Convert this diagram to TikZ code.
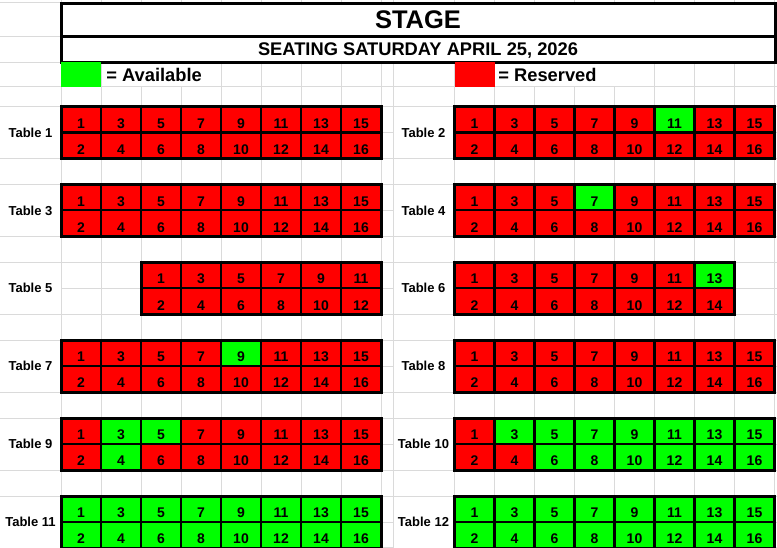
\documentclass[tikz,border=0pt]{standalone}
\usepackage{fontspec}
\setmainfont{Liberation Sans}
\usepackage{tikz}
\usetikzlibrary{positioning}
\definecolor{free}{HTML}{00FF00}
\definecolor{taken}{HTML}{FF0000}
\definecolor{gridline}{HTML}{DADADA}

\begin{document}
\begin{tikzpicture}[x=1pt,y=-1pt,font=\bfseries]
    \tikzstyle{gridline}=[draw=gridline, line width=1pt]
    \tikzstyle{seat}=[draw, line width=2.2pt, minimum width=40pt, minimum height=26pt, inner sep=0pt, outer sep=0pt, text height=17.4pt, text depth=0pt, font=\fontsize{14}{16}\selectfont\bfseries]
    \tikzstyle{free}=[fill=free]
    \tikzstyle{taken}=[fill=taken]
    \tikzstyle{tablebox}=[draw, line width=3pt]
    \tikzstyle{tablename}=[inner sep=0pt, font=\fontsize{13}{15}\selectfont\bfseries]
    \tikzstyle{key}=[inner sep=0pt, font=\fontsize{18.3}{20}\selectfont\bfseries]
    \tikzstyle{banner}=[draw, fill=white, line width=3pt, minimum width=714pt, inner sep=0pt, outer sep=0pt, text depth=0pt]
    \useasboundingbox (0,0) rectangle (777,548);

    % Sheet grid
    \foreach \x in {61,101,...,381,393,454.5,494.5,...,774.5} \draw[gridline] (\x,0) -- (\x,548);
    \foreach \y in {2.7,36.7,62.3,86.7} \draw[gridline] (0,\y) -- (777,\y);
    \foreach \j in {0,...,17} \draw[gridline] (0,{106.5+25.97*\j}) -- (777,{106.5+25.97*\j});
    \fill[white] (101.5,62.8) rectangle (221,86.2);
    \fill[white] (494.5,62.8) rectangle (614.5,86.2);
    \foreach \t in {106.5,184.4,262.3,340.2,418.1,496} {
        \fill[white] (0,\t+0.5) rectangle (60.5,\t+51.5);
        \fill[white] (393.5,\t+0.5) rectangle (454,\t+51.5);
    }

    % Header
    \node[banner, minimum height=33.4pt, text height=16.6pt, font=\fontsize{25.5}{28}\selectfont\bfseries] (stage) at (418,20) {STAGE};
    \node[banner, minimum height=25.6pt, text height=12.4pt, font=\fontsize{18.3}{20}\selectfont\bfseries] (date) at (418,49.5) {SEATING SATURDAY APRIL 25, 2026};

    % Legend
    \node[free, minimum width=40pt, minimum height=24.4pt, inner sep=0pt] (freekey) at (81,74.5) {};
    \node[key, right=5pt of freekey] (freetext) {= Available};
    \node[taken, minimum width=40pt, minimum height=24.4pt, inner sep=0pt] (takenkey) at (474.5,74.5) {};
    \node[key, right=3.5pt of takenkey] (takentext) {= Reserved};

    % Table 1
    \node[tablename] (table1) at (30.5,132.5) {Table 1};
    \foreach \s/\c [count=\i from 0] in {1/taken,3/taken,5/taken,7/taken,9/taken,11/taken,13/taken,15/taken} \node[seat,\c] (t1s\s) at ({81+40*\i},119.5) {\s};
    \foreach \s/\c [count=\i from 0] in {2/taken,4/taken,6/taken,8/taken,10/taken,12/taken,14/taken,16/taken} \node[seat,\c] (t1s\s) at ({81+40*\i},145.5) {\s};
    \draw[tablebox] (t1s1.north west) rectangle (t1s16.south east);

    % Table 2
    \node[tablename] (table2) at (423.5,132.5) {Table 2};
    \foreach \s/\c [count=\i from 0] in {1/taken,3/taken,5/taken,7/taken,9/taken,11/free,13/taken,15/taken} \node[seat,\c] (t2s\s) at ({474.5+40*\i},119.5) {\s};
    \foreach \s/\c [count=\i from 0] in {2/taken,4/taken,6/taken,8/taken,10/taken,12/taken,14/taken,16/taken} \node[seat,\c] (t2s\s) at ({474.5+40*\i},145.5) {\s};
    \draw[tablebox] (t2s1.north west) rectangle (t2s16.south east);

    % Table 3
    \node[tablename] (table3) at (30.5,210.4) {Table 3};
    \foreach \s/\c [count=\i from 0] in {1/taken,3/taken,5/taken,7/taken,9/taken,11/taken,13/taken,15/taken} \node[seat,\c] (t3s\s) at ({81+40*\i},197.4) {\s};
    \foreach \s/\c [count=\i from 0] in {2/taken,4/taken,6/taken,8/taken,10/taken,12/taken,14/taken,16/taken} \node[seat,\c] (t3s\s) at ({81+40*\i},223.4) {\s};
    \draw[tablebox] (t3s1.north west) rectangle (t3s16.south east);

    % Table 4
    \node[tablename] (table4) at (423.5,210.4) {Table 4};
    \foreach \s/\c [count=\i from 0] in {1/taken,3/taken,5/taken,7/free,9/taken,11/taken,13/taken,15/taken} \node[seat,\c] (t4s\s) at ({474.5+40*\i},197.4) {\s};
    \foreach \s/\c [count=\i from 0] in {2/taken,4/taken,6/taken,8/taken,10/taken,12/taken,14/taken,16/taken} \node[seat,\c] (t4s\s) at ({474.5+40*\i},223.4) {\s};
    \draw[tablebox] (t4s1.north west) rectangle (t4s16.south east);

    % Table 5
    \node[tablename] (table5) at (30.5,288.3) {Table 5};
    \foreach \s/\c [count=\i from 0] in {1/taken,3/taken,5/taken,7/taken,9/taken,11/taken} \node[seat,\c] (t5s\s) at ({161+40*\i},275.3) {\s};
    \foreach \s/\c [count=\i from 0] in {2/taken,4/taken,6/taken,8/taken,10/taken,12/taken} \node[seat,\c] (t5s\s) at ({161+40*\i},301.3) {\s};
    \draw[tablebox] (t5s1.north west) rectangle (t5s12.south east);

    % Table 6
    \node[tablename] (table6) at (423.5,288.3) {Table 6};
    \foreach \s/\c [count=\i from 0] in {1/taken,3/taken,5/taken,7/taken,9/taken,11/taken,13/free} \node[seat,\c] (t6s\s) at ({474.5+40*\i},275.3) {\s};
    \foreach \s/\c [count=\i from 0] in {2/taken,4/taken,6/taken,8/taken,10/taken,12/taken,14/taken} \node[seat,\c] (t6s\s) at ({474.5+40*\i},301.3) {\s};
    \draw[tablebox] (t6s1.north west) rectangle (t6s14.south east);

    % Table 7
    \node[tablename] (table7) at (30.5,366.2) {Table 7};
    \foreach \s/\c [count=\i from 0] in {1/taken,3/taken,5/taken,7/taken,9/free,11/taken,13/taken,15/taken} \node[seat,\c] (t7s\s) at ({81+40*\i},353.2) {\s};
    \foreach \s/\c [count=\i from 0] in {2/taken,4/taken,6/taken,8/taken,10/taken,12/taken,14/taken,16/taken} \node[seat,\c] (t7s\s) at ({81+40*\i},379.2) {\s};
    \draw[tablebox] (t7s1.north west) rectangle (t7s16.south east);

    % Table 8
    \node[tablename] (table8) at (423.5,366.2) {Table 8};
    \foreach \s/\c [count=\i from 0] in {1/taken,3/taken,5/taken,7/taken,9/taken,11/taken,13/taken,15/taken} \node[seat,\c] (t8s\s) at ({474.5+40*\i},353.2) {\s};
    \foreach \s/\c [count=\i from 0] in {2/taken,4/taken,6/taken,8/taken,10/taken,12/taken,14/taken,16/taken} \node[seat,\c] (t8s\s) at ({474.5+40*\i},379.2) {\s};
    \draw[tablebox] (t8s1.north west) rectangle (t8s16.south east);

    % Table 9
    \node[tablename] (table9) at (30.5,444.1) {Table 9};
    \foreach \s/\c [count=\i from 0] in {1/taken,3/free,5/free,7/taken,9/taken,11/taken,13/taken,15/taken} \node[seat,\c] (t9s\s) at ({81+40*\i},431.1) {\s};
    \foreach \s/\c [count=\i from 0] in {2/taken,4/free,6/taken,8/taken,10/taken,12/taken,14/taken,16/taken} \node[seat,\c] (t9s\s) at ({81+40*\i},457.1) {\s};
    \draw[tablebox] (t9s1.north west) rectangle (t9s16.south east);

    % Table 10
    \node[tablename] (table10) at (423.5,444.1) {Table 10};
    \foreach \s/\c [count=\i from 0] in {1/taken,3/free,5/free,7/free,9/free,11/free,13/free,15/free} \node[seat,\c] (t10s\s) at ({474.5+40*\i},431.1) {\s};
    \foreach \s/\c [count=\i from 0] in {2/taken,4/taken,6/free,8/free,10/free,12/free,14/free,16/free} \node[seat,\c] (t10s\s) at ({474.5+40*\i},457.1) {\s};
    \draw[tablebox] (t10s1.north west) rectangle (t10s16.south east);

    % Table 11
    \node[tablename] (table11) at (30.5,522) {Table 11};
    \foreach \s/\c [count=\i from 0] in {1/free,3/free,5/free,7/free,9/free,11/free,13/free,15/free} \node[seat,\c] (t11s\s) at ({81+40*\i},509) {\s};
    \foreach \s/\c [count=\i from 0] in {2/free,4/free,6/free,8/free,10/free,12/free,14/free,16/free} \node[seat,\c] (t11s\s) at ({81+40*\i},535) {\s};
    \draw[tablebox] (t11s1.north west) rectangle (t11s16.south east);

    % Table 12
    \node[tablename] (table12) at (423.5,522) {Table 12};
    \foreach \s/\c [count=\i from 0] in {1/free,3/free,5/free,7/free,9/free,11/free,13/free,15/free} \node[seat,\c] (t12s\s) at ({474.5+40*\i},509) {\s};
    \foreach \s/\c [count=\i from 0] in {2/free,4/free,6/free,8/free,10/free,12/free,14/free,16/free} \node[seat,\c] (t12s\s) at ({474.5+40*\i},535) {\s};
    \draw[tablebox] (t12s1.north west) rectangle (t12s16.south east);
\end{tikzpicture}
\end{document}
